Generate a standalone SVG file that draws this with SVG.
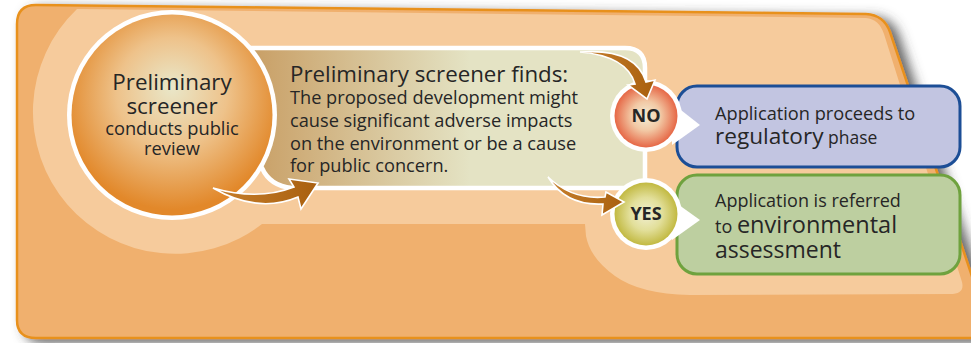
<svg xmlns="http://www.w3.org/2000/svg" width="971" height="343" viewBox="0 0 971 343">
<defs>
  <filter id="shadow" x="-5%" y="-5%" width="115%" height="120%">
    <feDropShadow dx="8" dy="4" stdDeviation="6" flood-color="#404040" flood-opacity="0.8"/>
  </filter>
  <radialGradient id="gMain" cx="50%" cy="42%" r="55%" fx="50%" fy="36%">
    <stop offset="0" stop-color="#e9e7c9"/>
    <stop offset="0.5" stop-color="#eec28a"/>
    <stop offset="1" stop-color="#e2882a"/>
  </radialGradient>
  <radialGradient id="gNo" cx="50%" cy="50%" r="52%">
    <stop offset="0" stop-color="#f3eed6"/>
    <stop offset="0.45" stop-color="#f2c8a4"/>
    <stop offset="1" stop-color="#e5603f"/>
  </radialGradient>
  <radialGradient id="gYes" cx="50%" cy="50%" r="52%">
    <stop offset="0" stop-color="#f1efd2"/>
    <stop offset="0.5" stop-color="#e2df9a"/>
    <stop offset="1" stop-color="#bfb63a"/>
  </radialGradient>
  <linearGradient id="gBox" gradientUnits="userSpaceOnUse" x1="255" y1="0" x2="470" y2="0">
    <stop offset="0" stop-color="#c9a067"/>
    <stop offset="1" stop-color="#e4e3c4"/>
  </linearGradient>
  <linearGradient id="gArrow" x1="0" y1="0" x2="1" y2="0">
    <stop offset="0" stop-color="#c77f2c"/>
    <stop offset="1" stop-color="#a9600f"/>
  </linearGradient>
  <style>
    .t { font-family: "Open Sans", "Noto Sans", "Liberation Sans", sans-serif; fill: #262626; }
    .arrow { fill: url(#gArrow); stroke: #ffffff; stroke-width: 1.6; stroke-linejoin: miter; }
    .ring { fill: #ffffff; }
  </style>
</defs>

<!-- background panel -->
<g id="panel">
  <path d="M17,24 Q17,5 36,5 L866,14 Q884,15 890,32 L990,330 L990,338 L36,338 Q17,338 17,320 Z"
        fill="#f0b06e" stroke="#e8911f" stroke-width="2.5" filter="url(#shadow)"/>
  <path d="M77,9 L866,18 Q879,19 884,34 L962,282 Q965,294 950,294 L690,295 Q640,294 615,276 Q590,258 586,236 L585,224 L262,224 A142,142 0 0 1 77,9 Z"
        fill="#f6cb9c"/>
</g>

<!-- finding box -->
<g id="finding">
  <path d="M240,48 H625 Q645,48 645,68 V188 H292 Q270,186 262,168 L240,168 Z"
        fill="url(#gBox)" stroke="#ffffff" stroke-width="4.5" stroke-linejoin="round"/>
  <text class="t" x="290" y="82" font-size="22.3">Preliminary screener finds:</text>
  <text class="t" x="290" y="104" font-size="18.2">The proposed development might</text>
  <text class="t" x="290" y="127" font-size="18.2">cause significant adverse impacts</text>
  <text class="t" x="290" y="150" font-size="18.2">on the environment or be a cause</text>
  <text class="t" x="290" y="172" font-size="18.2">for public concern.</text>
</g>

<!-- main circle -->
<g id="screener">
  <circle class="ring" cx="172" cy="115" r="105"/>
  <circle cx="172" cy="115" r="100.5" fill="url(#gMain)"/>
  <text class="t" x="172" y="90" font-size="22.4" text-anchor="middle">Preliminary</text>
  <text class="t" x="172" y="114" font-size="22.4" text-anchor="middle">screener</text>
  <text class="t" x="172" y="135" font-size="18.3" text-anchor="middle">conducts public</text>
  <text class="t" x="172" y="155" font-size="18.3" text-anchor="middle">review</text>
</g>

<!-- blue result -->
<g id="regulatory">
  <rect x="677" y="86" width="283" height="81" rx="20" fill="#c2c5e1" stroke="#1c4e96" stroke-width="3"/>
  <path d="M672,103 L700,125 L672,145 Z" fill="#ffffff"/>
  <text class="t" x="715" y="120" font-size="18.2">Application proceeds to</text>
  <text class="t" x="715" y="144"><tspan font-size="22.6">regulatory</tspan><tspan font-size="17.5"> phase</tspan></text>
</g>

<!-- green result -->
<g id="assessment">
  <rect x="677" y="175" width="283" height="99" rx="20" fill="#bdcfa0" stroke="#6fa23e" stroke-width="3"/>
  <path d="M672,200 L700,220 L672,240 Z" fill="#ffffff"/>
  <text class="t" x="715" y="207" font-size="18">Application is referred</text>
  <text class="t" x="715" y="233"><tspan font-size="18">to </tspan><tspan font-size="23.5">environmental</tspan></text>
  <text class="t" x="715" y="258" font-size="23">assessment</text>
</g>

<!-- NO circle -->
<g id="no">
  <circle class="ring" cx="646" cy="116" r="36"/>
  <circle cx="646" cy="116" r="31.5" fill="url(#gNo)"/>
  <text class="t" x="646" y="122" font-size="18" font-weight="bold" text-anchor="middle">NO</text>
</g>

<!-- YES circle -->
<g id="yes">
  <circle class="ring" cx="646" cy="214" r="36"/>
  <circle cx="646" cy="214" r="31.5" fill="url(#gYes)"/>
  <text class="t" x="646" y="220" font-size="18" font-weight="bold" text-anchor="middle">YES</text>
</g>

<!-- connectors -->
<g id="connectors">
  <path class="arrow" d="M213,188 Q258,214 298,197 L301,209 L318,183 L289,179 L294,187 Q258,201 213,188 Z"/>
  <path class="arrow" d="M580,52 Q627,56 635,84 L628,85 L647,99 L655,80 L646,82 Q636,48 580,52 Z"/>
  <path class="arrow" d="M548,177 Q566,206 603,204 L602,215 L624,202 L606,192 L605,197 Q572,200 548,177 Z"/>
</g>
</svg>
